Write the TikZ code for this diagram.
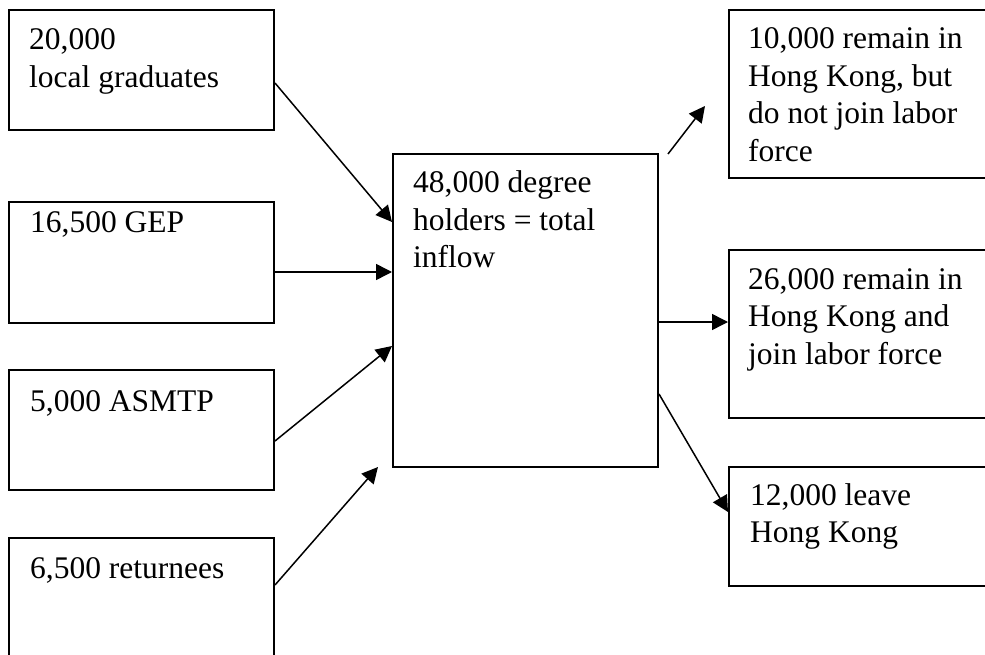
\documentclass[tikz,border=0pt]{standalone}
\usepackage{fontspec}
\setmainfont{Liberation Serif}
\usetikzlibrary{arrows.meta,calc}
\tikzset{
  boxnode/.style={draw=black, line width=2pt, rectangle, inner sep=0pt, anchor=north west},
  label txt/.style={inner sep=0pt, anchor=base west},
  flow/.style={line width=1.5pt, -{Triangle[length=16pt,width=16pt]}}
}
\newcommand{\boxtext}[1]{\parbox[t]{250pt}{\fontsize{31.5}{37.5}\selectfont\raggedright #1}}
\begin{document}
\begin{tikzpicture}[x=1pt,y=-1pt]
\clip (0,0) rectangle (985,655);
\fill[white] (0,0) rectangle (985,655);
% left boxes
\node[boxnode, minimum width=265pt, minimum height=120pt] (b1) at (8,9) {};
\node[boxnode, minimum width=265pt, minimum height=121pt] (b2) at (8,201) {};
\node[boxnode, minimum width=265pt, minimum height=120pt] (b3) at (8,369) {};
\node[boxnode, minimum width=265pt, minimum height=140pt] (b4) at (8,537) {};
% center box
\node[boxnode, minimum width=265pt, minimum height=313pt] (c) at (392,153) {};
% right boxes
\node[boxnode, minimum width=265pt, minimum height=168pt] (r1) at (728,9) {};
\node[boxnode, minimum width=265pt, minimum height=168pt] (r2) at (728,249) {};
\node[boxnode, minimum width=265pt, minimum height=119pt] (r3) at (728,466) {};
% texts
\node[label txt] (t1) at (29,50) {\boxtext{20,000\\local graduates}};
\node[label txt] (t2) at (30,233) {\boxtext{16,500 GEP}};
\node[label txt] (t3) at (30,411) {\boxtext{5,000 ASMTP}};
\node[label txt] (t4) at (30,578) {\boxtext{6,500 returnees}};
\node[label txt] (tc) at (413,193) {\boxtext{48,000 degree\\holders = total\\inflow}};
\node[label txt] (tr1) at (748,49) {\boxtext{10,000 remain in\\Hong Kong, but\\do not join labor\\force}};
\node[label txt] (tr2) at (748,289) {\boxtext{26,000 remain in\\Hong Kong and\\join labor force}};
\node[label txt] (tr3) at (750,505) {\boxtext{12,000 leave\\Hong Kong}};
% free ends
\coordinate (a4end) at ($(c.south west)+(-14,-1)$);
\coordinate (b1start) at ($(c.north east)+(9,1)$);
\coordinate (b1end) at ($(r1.north west)+(-23,97)$);
% arrows in
\draw[flow] ($(b1.north east)+(0,74)$) -- ($(c.north west)+(0,69)$);
\draw[flow] ($(b2.north east)+(0,71)$) -- ($(c.north west)+(0,119)$);
\draw[flow] ($(b3.north east)+(0,72)$) -- ($(c.north west)+(0,193)$);
\draw[flow] ($(b4.north east)+(0,48)$) -- (a4end);
% arrows out
\draw[flow] (b1start) -- (b1end);
\draw[flow] ($(c.north east)+(0,169)$) -- ($(r2.north west)+(0,73)$);
\draw[flow] ($(c.north east)+(0,241)$) -- ($(r3.north west)+(0,46)$);
\end{tikzpicture}
\end{document}
